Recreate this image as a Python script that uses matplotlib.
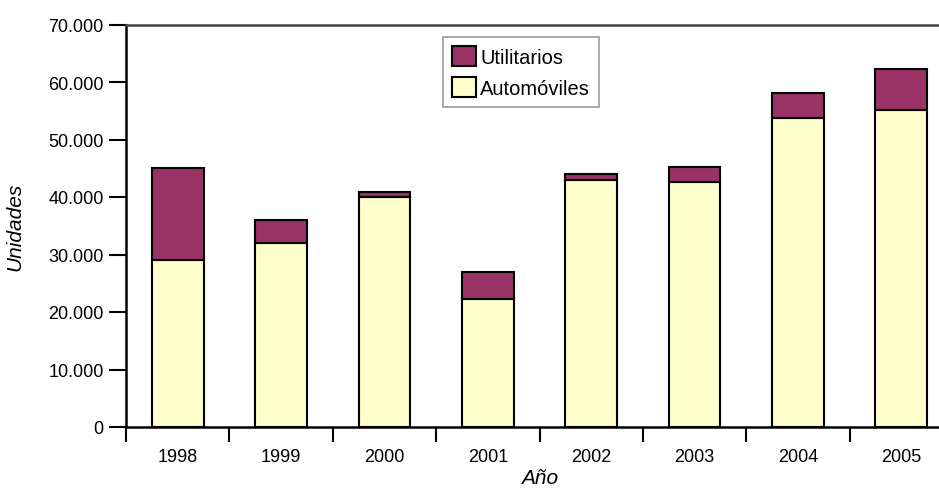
import matplotlib
matplotlib.use('Agg')
from matplotlib import pyplot as plt
from matplotlib.patches import Patch

anios = ['1998', '1999', '2000', '2001', '2002', '2003', '2004', '2005']
automoviles = [29000, 32000, 40000, 22300, 43000, 42600, 53800, 55200]
utilitarios = [16000, 4000, 800, 4600, 1000, 2600, 4300, 7000]
ticks_y = [0, 10000, 20000, 30000, 40000, 50000, 60000, 70000]

COLOR_AUTO = '#ffffcc'
COLOR_UTIL = '#993366'


def formato_miles(v):
    return f'{v:,}'.replace(',', '.')


def main():
    plt.rcParams['font.family'] = ['Liberation Sans', 'DejaVu Sans']

    fig = plt.figure(figsize=(9.39, 4.89), dpi=100)
    # el eje se extiende un poco más allá del borde derecho
    ax = fig.add_axes([126 / 939, 1 - 428 / 489, 827 / 939, 402.5 / 489])

    x = list(range(len(anios)))
    ax.bar(x, automoviles, 0.5, color=COLOR_AUTO, edgecolor='black', linewidth=1.5)
    ax.bar(x, utilitarios, 0.5, bottom=automoviles, color=COLOR_UTIL,
           edgecolor='black', linewidth=1.5)

    ax.set_xlim(-0.5, len(anios) - 0.5)
    ax.set_ylim(0, 70000)

    ax.set_yticks(ticks_y)
    ax.set_yticklabels([formato_miles(v) for v in ticks_y], fontsize=13)
    ax.tick_params(axis='y', length=12, width=1.5, direction='out', pad=4)

    ax.set_xticks([i - 0.5 for i in range(len(anios) + 1)])
    ax.set_xticklabels([])
    ax.tick_params(axis='x', which='major', length=11, width=1.5, direction='out')
    ax.set_xticks(x, minor=True)
    ax.set_xticklabels(anios, minor=True, fontsize=13)
    ax.tick_params(axis='x', which='minor', length=0, pad=15)

    for lado in ['left', 'bottom', 'top']:
        ax.spines[lado].set_linewidth(1.8)
    ax.spines['top'].set_color('#444444')
    ax.spines['right'].set_visible(False)

    ax.set_xlabel('Año', fontsize=15, style='italic', labelpad=2)
    ax.set_ylabel('Unidades', fontsize=15, style='italic', labelpad=17)

    handles = [Patch(facecolor=COLOR_UTIL, edgecolor='black', linewidth=1.5),
               Patch(facecolor=COLOR_AUTO, edgecolor='black', linewidth=1.5)]
    leg = ax.legend(handles, ['Utilitarios', 'Automóviles'], loc='upper left',
                    bbox_to_anchor=((443 - 126) / 827, (428 - 38) / 402.5),
                    prop={'size': 14.5}, fancybox=False, framealpha=1,
                    edgecolor='#999999', handlelength=1.2, handleheight=1.15,
                    handletextpad=0.2, borderpad=0.45, labelspacing=0.5,
                    borderaxespad=0)
    leg.get_frame().set_linewidth(1.2)

    fig.savefig('out.png', dpi=100)


if __name__ == '__main__':
    main()
